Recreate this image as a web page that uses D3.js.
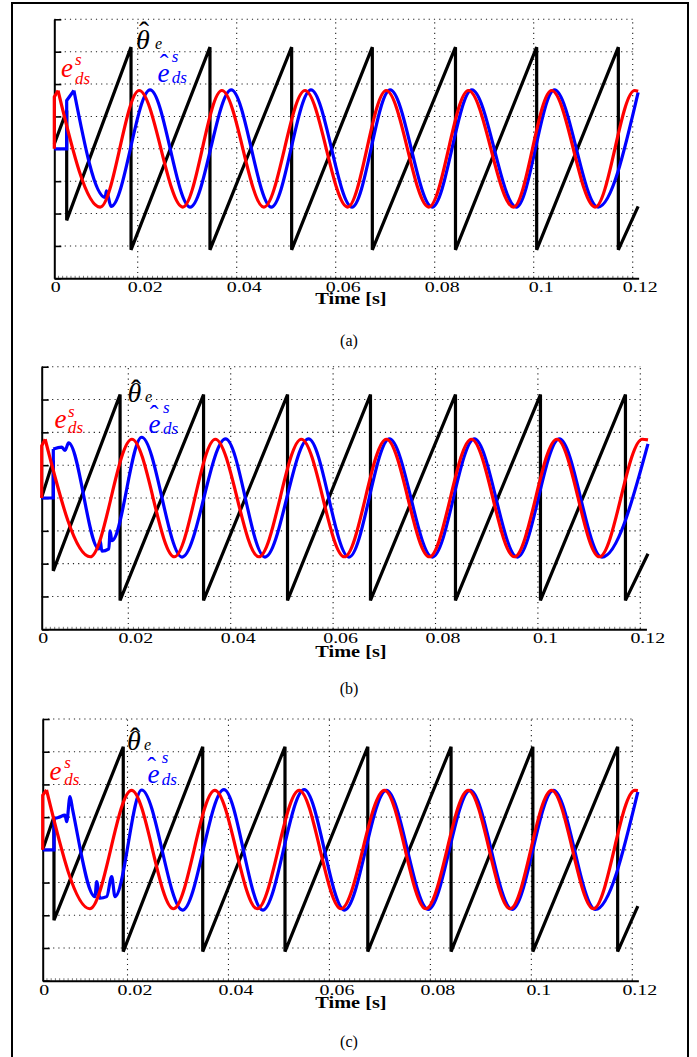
<!DOCTYPE html>
<html>
<head>
<meta charset="utf-8">
<script src="https://cdn.jsdelivr.net/npm/d3@7"></script>
<style>
  body { margin: 0; background: #fff; }
  svg { display: block; }
  text { font-family: "Liberation Serif", "Times New Roman", serif; }
</style>
</head>
<body>
<script>
// axis ticks and labels
const xTicks = [0, 0.02, 0.04, 0.06, 0.08, 0.1, 0.12];
const xTickLabels = ["0", "0.02", "0.04", "0.06", "0.08", "0.1", "0.12"];
const yTicks = [-4, -3, -2, -1, 0, 1, 2, 3, 4];
const xTitle = "Time [s]";
const captions = ["(a)", "(b)", "(c)"];

// ---- panel (a) : [time s, value]
const aBlack = [[0,0.15],[0.00297,1.18],[0.00297,-2.21],[0.0184,3.14],[0.0184,-3.12],[0.0346,3.14],[0.0346,-3.12],
  [0.0511,3.14],[0.0511,-3.12],[0.0674,3.14],[0.0674,-3.12],[0.0842,3.14],[0.0842,-3.12],[0.1006,3.14],[0.1006,-3.12],
  [0.1171,3.14],[0.1171,-3.12],[0.1211,-1.78]];
const aRedStart = [[0,0],[0,1.6],[0.0009,1.8]];
const aRedWave = [[0.0009,1.8],[0.0110,-1.8],[0.0203,1.8],[0.0291,-1.8],[0.0370,1.8],[0.0455,-1.8],[0.0538,1.8],
  [0.0624,-1.8],[0.0702,1.8],[0.0788,-1.8],[0.0868,1.8],[0.0959,-1.8],[0.1036,1.8],[0.1124,-1.8],[0.1204,1.8],[0.1211,1.78]];
const aBlueStart = [[0,0],[0.00297,0],[0.00297,1.49],[0.0047,1.8]];
const aBlueWave = [[0.0047,1.8],[0.0122,-1.5],[0.0125,-1.3],[0.0136,-1.78],[0.0225,1.82],[0.0306,-1.8],[0.0389,1.82],
  [0.0470,-1.8],[0.0550,1.82],[0.0633,-1.8],[0.0710,1.82],[0.0795,-1.8],[0.0875,1.82],[0.0965,-1.8],[0.1042,1.82],
  [0.1130,-1.8],[0.1211,1.74]];

// ---- panel (b)
const bBlack = [[0,0.02],[0.00268,1.14],[0.00268,-2.22],[0.0181,3.15],[0.0181,-3.12],[0.0347,3.15],[0.0347,-3.12],
  [0.0511,3.15],[0.0511,-3.12],[0.0673,3.15],[0.0673,-3.12],[0.0839,3.15],[0.0839,-3.12],[0.1005,3.15],[0.1005,-3.12],
  [0.1171,3.15],[0.1171,-3.12],[0.1215,-1.7]];
const bRedStart = [[0,0],[0,1.59],[0.0008,1.79]];
const bRedWave = [[0.0008,1.79],[0.0112,-1.79],[0.0207,1.79],[0.0290,-1.79],[0.0370,1.79],[0.0455,-1.79],[0.0538,1.79],
  [0.0622,-1.79],[0.0704,1.79],[0.0788,-1.79],[0.0870,1.79],[0.0954,-1.79],[0.1037,1.79],[0.1120,-1.79],[0.1204,1.79],[0.1215,1.77]];
const bBlueStart = [[0,0],[0.00268,0],[0.00268,1.49]];
const bBlueWave = [[0.00268,1.49],[0.0046,1.55],[0.0054,1.45],[0.0062,1.68],[0.0132,-1.55],[0.0135,-1.3],[0.0139,-1.62],
  [0.0155,-1.55],[0.0158,-1.0],[0.0162,-1.3],[0.0226,1.85],[0.0305,-1.8],[0.0390,1.8],[0.0467,-1.8],[0.0552,1.8],
  [0.0631,-1.8],[0.0710,1.8],[0.0794,-1.8],[0.0876,1.8],[0.0960,-1.8],[0.1042,1.8],[0.1125,-1.8],[0.1215,1.65]];

// ---- panel (c)
const cBlack = [[0,0],[0.00266,1.01],[0.00266,-2.15],[0.0190,3.15],[0.0190,-3.11],[0.0349,3.15],[0.0349,-3.11],
  [0.0512,3.15],[0.0512,-3.11],[0.0676,3.15],[0.0676,-3.11],[0.0841,3.15],[0.0841,-3.11],[0.1003,3.15],[0.1003,-3.11],
  [0.1171,3.15],[0.1171,-3.11],[0.1211,-1.72]];
const cRedStart = [[0,0],[0,1.67],[0.0009,1.83]];
const cRedWave = [[0.0009,1.83],[0.0111,-1.8],[0.0208,1.82],[0.0291,-1.8],[0.0373,1.82],[0.0457,-1.8],[0.0540,1.82],
  [0.0623,-1.8],[0.0709,1.82],[0.0791,-1.8],[0.0875,1.82],[0.0958,-1.8],[0.1040,1.82],[0.1123,-1.8],[0.1205,1.82],[0.1211,1.81]];
const cBlueStart = [[0,0],[0.00266,0],[0.00266,0.96]];
const cBlueWave = [[0.00266,0.96],[0.00368,0.99],[0.00526,1.06],[0.00566,0.86],[0.00644,1.63],[0.00707,1.22],
  [0.01233,-1.43],[0.01273,-0.97],[0.01351,-1.48],[0.01509,-1.43],[0.01627,-0.82],[0.01705,-1.43],[0.0228,1.83],
  [0.0309,-1.84],[0.0391,1.84],[0.0468,-1.84],[0.0550,1.84],[0.0630,-1.84],[0.0713,1.82],[0.0796,-1.82],[0.0879,1.82],
  [0.0962,-1.82],[0.1044,1.82],[0.1127,-1.82],[0.1211,1.77]];

const W = 697, H = 1057;

// layout per panel; label anchors: theta [x,y,hatX,hatY,subX,subY], red [x,y,supX,supY,subY],
// blue [x,y,hatX,hatY,supX,supY,subY]
const panels = [
  { x0: 54.3, x02: 137.7, x12: 632.7, top: 19.3, bottom: 278.3, capY: 345.5, titleY: 304,
    black: aBlack, redStart: aRedStart, redWave: aRedWave, blueStart: aBlueStart, blueWave: aBlueWave,
    theta: [136, 49, 144, 42, 155, 48.5], red: [61, 77, 75, 65, 84], blue: [157.5, 81.7, 164, 72, 171.7, 61.7, 83.3] },
  { x0: 41.7, x02: 128.3, x12: 640.3, top: 366.7, bottom: 629.3, capY: 694, titleY: 657,
    black: bBlack, redStart: bRedStart, redWave: bRedWave, blueStart: bBlueStart, blueWave: bBlueWave,
    theta: [127.5, 401.7, 136, 400, 145, 402], red: [54.5, 428, 68, 417, 433], blue: [148.5, 433, 154, 423, 163, 413, 434] },
  { x0: 42.7, x02: 127.5, x12: 632.3, top: 719, bottom: 980.7, capY: 1047, titleY: 1008,
    black: cBlack, redStart: cRedStart, redWave: cRedWave, blueStart: cBlueStart, blueWave: cBlueWave,
    theta: [127, 750, 135, 748, 144, 750], red: [49.5, 780, 64.3, 768, 785], blue: [147.5, 783, 151.7, 775, 161.7, 763, 785] }
];

const svg = d3.select("body").append("svg")
  .attr("width", W).attr("height", H);

svg.append("rect").attr("width", W).attr("height", H).attr("fill", "#fff");

// outer frame
svg.append("rect")
  .attr("x", 12).attr("y", 3).attr("width", 676).attr("height", 1070)
  .attr("fill", "none").attr("stroke", "#000").attr("stroke-width", 2);

function stretch(sel, k) {
  sel.each(function() {
    const w = this.getComputedTextLength();
    if (w > 0) {
      this.setAttribute("textLength", w * k);
      this.setAttribute("lengthAdjust", "spacingAndGlyphs");
    }
  });
}

const tEnd = 0.1212;
const serif = "'Liberation Serif', 'Times New Roman', serif";

panels.forEach((p, i) => {
  const xEnd = p.x12 + (tEnd - 0.12) * (p.x12 - p.x02) / 0.1;
  const x = d3.scaleLinear().domain([0, 0.02, tEnd]).range([p.x0, p.x02, xEnd]);
  const y = d3.scaleLinear().domain([-4, 4]).range([p.bottom, p.top]);
  const g = svg.append("g");

  // dotted grid
  g.append("g").selectAll("line").data(yTicks.slice(1)).join("line")
    .attr("x1", x(0)).attr("x2", x(0.12))
    .attr("y1", d => y(d)).attr("y2", d => y(d))
    .attr("stroke", "#222").attr("stroke-width", 1.1).attr("stroke-dasharray", "1.2,4");
  g.append("g").selectAll("line").data(xTicks.slice(1)).join("line")
    .attr("x1", d => x(d)).attr("x2", d => x(d))
    .attr("y1", y(-4)).attr("y2", y(4))
    .attr("stroke", "#222").attr("stroke-width", 1.1).attr("stroke-dasharray", "1.2,4");

  // minor ticks on time axis
  const minor = d3.range(1, 121).map(k => k / 1000);
  g.append("g").selectAll("line").data(minor).join("line")
    .attr("x1", d => x(d)).attr("x2", d => x(d))
    .attr("y1", y(-4)).attr("y2", y(-4) - 2.5)
    .attr("stroke", "#444").attr("stroke-width", 0.7);

  // y axis (no labels)
  const yAxis = g.append("g")
    .attr("transform", `translate(${x(0)},0)`)
    .call(d3.axisRight(y).tickValues(yTicks).tickSize(7).tickSizeOuter(0).tickFormat(""));
  yAxis.select(".domain").attr("stroke-width", 2);
  yAxis.selectAll(".tick line").attr("stroke-width", 1.6);

  // x axis
  const xAxis = g.append("g")
    .attr("transform", `translate(0,${y(-4)})`)
    .attr("font-family", serif)
    .call(d3.axisBottom(x).tickValues(xTicks).tickSize(0).tickSizeOuter(0)
      .tickFormat((d, k) => xTickLabels[k]));
  xAxis.attr("font-family", serif).attr("font-size", 14);
  xAxis.select(".domain").attr("stroke-width", 2);
  const tl = xAxis.selectAll(".tick text")
    .attr("y", 14.2).attr("dy", 0)
    .attr("dx", d => d === 0 ? 1 : 7)
    .style("font-family", serif).style("font-size", "14px");
  stretch(tl, 1.42);

  // title & caption
  const tt = g.append("text").attr("x", 351).attr("y", p.titleY)
    .attr("text-anchor", "middle").attr("font-weight", "bold").attr("font-size", 16)
    .text(xTitle);
  stretch(tt, 1.27);
  g.append("text").attr("x", 349).attr("y", p.capY)
    .attr("text-anchor", "middle").attr("font-size", 16)
    .text(captions[i]);

  // curves
  const lin = d3.line().x(d => x(d[0])).y(d => y(d[1]));
  const smooth = d3.line().x(d => x(d[0])).y(d => y(d[1])).curve(d3.curveMonotoneX);
  const plot = (data, gen, color) => g.append("path").attr("d", gen(data))
    .attr("fill", "none").attr("stroke", color).attr("stroke-width", 3.2);
  plot(p.black, lin, "#000");
  plot(p.blueStart, lin, "#0000ff");
  plot(p.blueWave, smooth, "#0000ff");
  plot(p.redStart, lin, "#ff0000");
  plot(p.redWave, smooth, "#ff0000");

  // labels: one text element each, parts positioned with tspans
  const th = p.theta;
  const t1 = g.append("text").attr("x", th[0]).attr("y", th[1])
    .attr("font-size", 28).attr("font-style", "italic").attr("fill", "#000");
  t1.append("tspan").text("θ");
  t1.append("tspan").attr("x", th[2]).attr("y", th[3]).attr("text-anchor", "middle")
    .attr("font-size", 30).attr("font-style", "normal").text("ˆ");
  t1.append("tspan").attr("x", th[4]).attr("y", th[5]).attr("font-size", 16).text("e");

  const r = p.red;
  const t2 = g.append("text").attr("x", r[0]).attr("y", r[1])
    .attr("font-size", 27).attr("font-style", "italic").attr("fill", "#ff0000");
  t2.append("tspan").text("e");
  t2.append("tspan").attr("x", r[2]).attr("y", r[3]).attr("font-size", 17).text("s");
  t2.append("tspan").attr("x", r[2]).attr("y", r[4]).attr("font-size", 17).text("ds");

  const b = p.blue;
  const t3 = g.append("text").attr("x", b[0]).attr("y", b[1])
    .attr("font-size", 27).attr("font-style", "italic").attr("fill", "#0000ff");
  t3.append("tspan").text("e");
  t3.append("tspan").attr("x", b[2]).attr("y", b[3]).attr("text-anchor", "middle")
    .attr("font-size", 26).attr("font-style", "normal").text("ˆ");
  t3.append("tspan").attr("x", b[4]).attr("y", b[5]).attr("font-size", 17).text("s");
  t3.append("tspan").attr("x", b[4]).attr("y", b[6]).attr("font-size", 17).text("ds");
});
</script>
</body>
</html>
